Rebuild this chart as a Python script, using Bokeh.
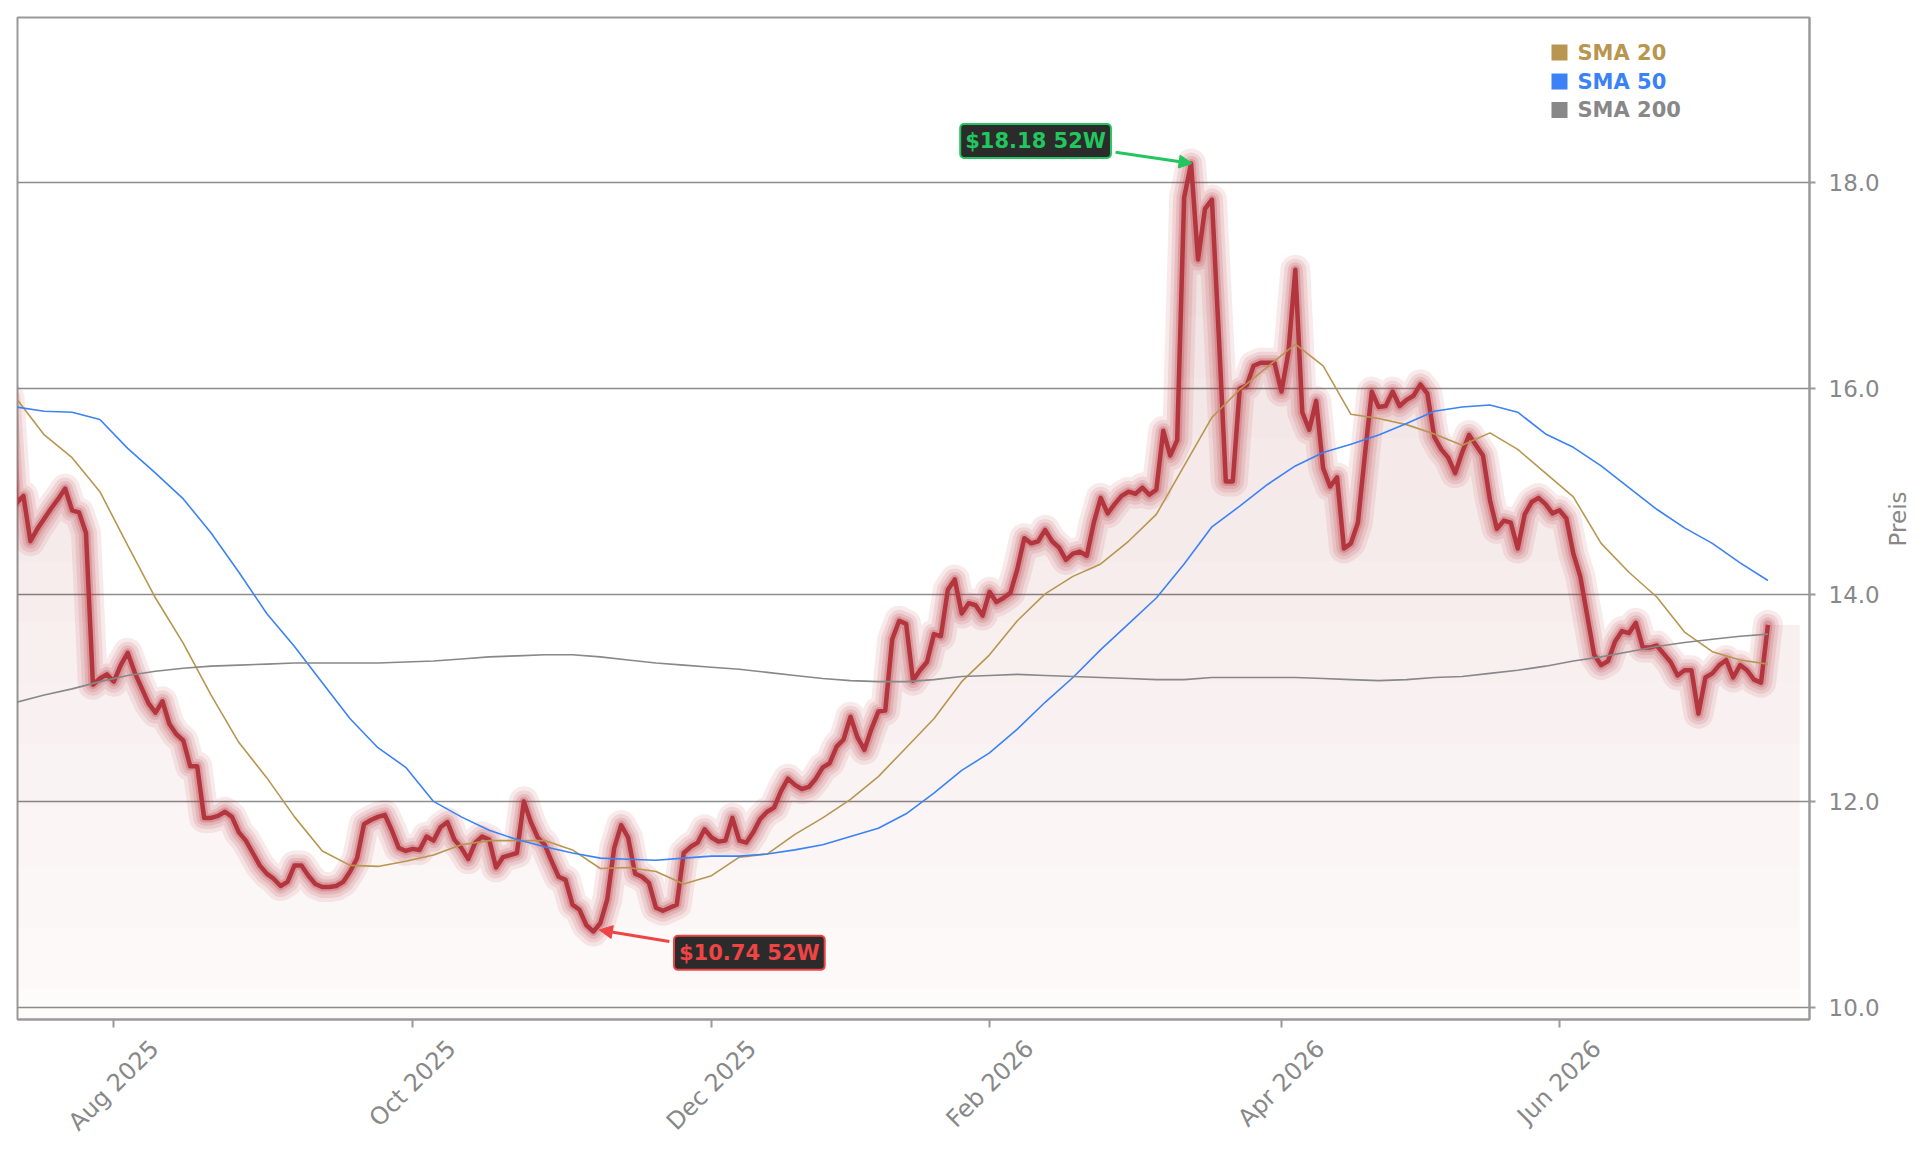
import math
import numpy as np
from bokeh.plotting import figure
from bokeh.models import (Range1d, FixedTicker, NumeralTickFormatter, Label, Arrow,
                          NormalHead, ColumnDataSource, LinearAxis)
from bokeh.core.properties import value
from bokeh.embed import file_html
from bokeh.resources import INLINE

# Daily closes by trading day (XETRA calendar), day 0 = 2025-07-11
close = [
    15.90, 14.89, 14.96, 14.52, 14.64, 14.74, 14.84, 14.93, 15.03, 14.82,
    14.80, 14.60, 13.13, 13.19, 13.23, 13.16, 13.32, 13.44, 13.25, 13.10,
    12.95, 12.86, 12.97, 12.75, 12.65, 12.59, 12.34, 12.34, 11.84, 11.84,
    11.86, 11.90, 11.85, 11.70, 11.62, 11.50, 11.38, 11.30, 11.25, 11.18,
    11.22, 11.38, 11.38, 11.28, 11.20, 11.17, 11.17, 11.18, 11.22, 11.32,
    11.45, 11.78, 11.82, 11.85, 11.87, 11.72, 11.55, 11.52, 11.54, 11.53,
    11.66, 11.62, 11.75, 11.80, 11.63, 11.55, 11.44, 11.60, 11.66, 11.63,
    11.36, 11.46, 11.48, 11.50, 12.00, 11.80, 11.65, 11.58, 11.42, 11.27,
    11.24, 11.00, 10.95, 10.80, 10.74, 10.82, 11.05, 11.55, 11.77, 11.65,
    11.30, 11.27, 11.21, 10.97, 10.94, 10.97, 11.00, 11.50, 11.56, 11.60,
    11.73, 11.65, 11.61, 11.62, 11.84, 11.62, 11.60, 11.70, 11.83, 11.90,
    11.94, 12.10, 12.22, 12.16, 12.12, 12.14, 12.22, 12.33, 12.37, 12.53,
    12.60, 12.82, 12.62, 12.50, 12.70, 12.87, 12.88, 13.57, 13.75, 13.72,
    13.17, 13.27, 13.35, 13.62, 13.60, 14.05, 14.15, 13.82, 13.92, 13.90,
    13.80, 14.03, 13.93, 13.97, 14.02, 14.25, 14.55, 14.50, 14.52, 14.63,
    14.52, 14.46, 14.34, 14.40, 14.42, 14.38, 14.70, 14.94, 14.79, 14.88,
    14.96, 15.00, 14.98, 15.04, 14.97, 15.02, 15.59, 15.35, 15.50, 17.85,
    18.18, 17.25, 17.74, 17.83, 16.50, 15.10, 15.10, 16.00, 16.03, 16.22,
    16.25, 16.25, 16.25, 15.97, 16.35, 17.15, 15.77, 15.60, 15.88, 15.23,
    15.05, 15.14, 14.45, 14.50, 14.70, 15.35, 15.97, 15.82, 15.83, 15.97,
    15.83, 15.89, 15.93, 16.04, 15.95, 15.53, 15.41, 15.33, 15.18, 15.38,
    15.55, 15.45, 15.35, 14.92, 14.64, 14.72, 14.70, 14.45, 14.78, 14.90,
    14.94, 14.88, 14.79, 14.82, 14.74, 14.40, 14.18, 13.80, 13.42, 13.32,
    13.36, 13.55, 13.65, 13.63, 13.73, 13.49, 13.49, 13.51, 13.43, 13.35,
    13.22, 13.27, 13.27, 12.85, 13.20, 13.24, 13.32, 13.37, 13.20, 13.32,
    13.27, 13.18, 13.15, 13.71,
]

# Moving averages, sampled every 4 trading days
sma_days = list(range(1, 254, 4))
sma20 = [
    15.90, 15.55, 15.33, 15.00, 14.48, 13.97, 13.53, 13.03,
    12.57, 12.23, 11.85, 11.52, 11.38, 11.37, 11.42, 11.48,
    11.58, 11.62, 11.62, 11.62, 11.53, 11.35, 11.36, 11.32,
    11.20, 11.28, 11.46, 11.49, 11.68, 11.84, 12.02, 12.24,
    12.52, 12.80, 13.16, 13.42, 13.75, 14.01, 14.18, 14.30,
    14.52, 14.78, 15.25, 15.72, 15.99, 16.21, 16.43, 16.22,
    15.75, 15.71, 15.65, 15.56, 15.45, 15.57, 15.41, 15.18,
    14.95, 14.50, 14.22, 13.98, 13.64, 13.45, 13.37, 13.33,
]
sma50 = [
    15.82, 15.78, 15.77, 15.70, 15.42, 15.18, 14.93, 14.60,
    14.22, 13.82, 13.50, 13.15, 12.80, 12.52, 12.33, 12.00,
    11.85, 11.72, 11.63, 11.56, 11.50, 11.45, 11.44, 11.43,
    11.45, 11.47, 11.47, 11.49, 11.53, 11.58, 11.66, 11.74,
    11.88, 12.08, 12.30, 12.47, 12.70, 12.96, 13.20, 13.47,
    13.72, 13.97, 14.30, 14.66, 14.86, 15.07, 15.25, 15.38,
    15.46, 15.55, 15.66, 15.78, 15.82, 15.84, 15.77, 15.56,
    15.43, 15.25, 15.04, 14.83, 14.65, 14.50, 14.31, 14.14,
]
sma200 = [
    12.96, 13.03, 13.09, 13.16, 13.22, 13.26, 13.29, 13.31,
    13.32, 13.33, 13.34, 13.34, 13.34, 13.34, 13.35, 13.36,
    13.38, 13.40, 13.41, 13.42, 13.42, 13.40, 13.37, 13.34,
    13.32, 13.30, 13.28, 13.25, 13.22, 13.19, 13.17, 13.16,
    13.16, 13.18, 13.21, 13.22, 13.23, 13.22, 13.21, 13.20,
    13.19, 13.18, 13.18, 13.20, 13.20, 13.20, 13.20, 13.19,
    13.18, 13.17, 13.18, 13.20, 13.21, 13.24, 13.27, 13.31,
    13.36, 13.40, 13.45, 13.50, 13.54, 13.57, 13.60, 13.62,
]

tick_days = [15, 58, 101, 141, 183, 223]
tick_labels = ["Aug 2025", "Oct 2025", "Dec 2025", "Feb 2026", "Apr 2026", "Jun 2026"]
price_ticks = [10, 12, 14, 16, 18]
legend_labels = ["SMA 20", "SMA 50", "SMA 200"]
y_title = "Preis"

# ---- styling ----
FONT = "DejaVu Sans"
RED = "#b8343c"
CORE = "#b3353d"
GOLD = "#b8964f"
BLUE = "#3b82f6"
GREY = "#888888"
AXIS = "#9a9a9a"
UP = "#22c55e"
DOWN = "#ef4444"
BOX = "#2b2b2b"
XLAB_PX = 24
YLAB_PX = 23
FILL_PAD_DAYS = 4.6   # area runs on a little past the last close

W, H = 1929, 1151
ML, MT, MR, MB = 17, 17, 120, 132
FW, FH = W - ML - MR, H - MT - MB
X0, X1 = 1.144, 258.98
Y0, Y1 = 9.887, 19.594
PPX = FW / (X1 - X0)
PPY = FH / (Y1 - Y0)

# DejaVu Sans advance widths (em) for the axis texts
EM = {"A": .684, "u": .634, "g": .635, " ": .318, "O": .787, "c": .550, "t": .392,
      "D": .770, "e": .615, "F": .575, "b": .635, "p": .635, "r": .411, "J": .295,
      "n": .634, "P": .603, "i": .278, "s": .521}
EM.update({d: .636 for d in "0123456789"})


def text_w(s, size):
    return size * sum(EM[c] for c in s)


def px_x(px):
    return X0 + (px - ML) / PPX


def px_y(py):
    return Y1 - (py - MT) / PPY


p = figure(width=W, height=H, x_range=Range1d(X0, X1), y_range=Range1d(Y0, Y1),
           output_backend="svg", toolbar_location=None, y_axis_location="right",
           min_border_left=ML, min_border_top=MT, min_border_right=MR,
           min_border_bottom=MB, background_fill_color="white",
           border_fill_color="white")
p.outline_line_color = AXIS
p.outline_line_width = 2

days = np.arange(len(close))
px = np.array(close)

# soft area under the price, darker towards the top
fx = np.append(days, days[-1] + FILL_PAD_DAYS)
fy = np.append(px, px[-1])
p.varea(x=fx, y1=Y0, y2=fy, fill_color=RED, fill_alpha=0.02)
n_layers = 14
step = (px.max() - Y0) / n_layers
for k in range(n_layers):
    lvl = Y0 + (k + 0.5) * step
    p.varea(x=fx, y1=lvl, y2=np.maximum(fy, lvl), fill_color=RED, fill_alpha=0.0095)

# glowing price line
for w, a in [(30, 0.10), (22, 0.12), (15, 0.15), (9, 0.25)]:
    p.line(days, px, line_color=RED, line_alpha=a, line_width=w,
           line_join="round", line_cap="round")
p.line(days, px, line_color=CORE, line_width=4.5, line_join="round")

# moving averages
p.line(sma_days, sma20, line_color=GOLD, line_width=1.6)
p.line(sma_days, sma50, line_color=BLUE, line_width=1.6)
p.line(sma_days, sma200, line_color=GREY, line_width=1.6)

# price axis on the right
p.yaxis.ticker = FixedTicker(ticks=price_ticks)
p.yaxis.formatter = NumeralTickFormatter(format="0.0")
p.yaxis.major_label_text_font = FONT
p.yaxis.major_label_text_font_size = f"{YLAB_PX}px"
p.yaxis.major_label_text_color = GREY
p.yaxis.major_label_standoff = 13

# date axis: tick marks here, labels on a second axis below
p.xaxis.ticker = FixedTicker(ticks=tick_days)
p.xaxis.major_label_overrides = {d: "" for d in tick_days}
p.xaxis.major_label_text_font_size = "0px"
p.xaxis.major_label_standoff = 0

for ax in (p.xaxis, p.yaxis):
    ax.axis_line_color = AXIS
    ax.axis_line_width = 2
    ax.major_tick_line_color = AXIS
    ax.major_tick_line_width = 2
    ax.major_tick_in = 0
    ax.minor_tick_line_color = None
p.yaxis.major_tick_out = 6
p.xaxis.major_tick_out = 8


def text_axis(ticks, labels, orientation, standoff, size):
    return LinearAxis(ticker=FixedTicker(ticks=ticks),
                      major_label_overrides=dict(zip(ticks, labels)),
                      major_label_orientation=orientation, axis_line_color=None,
                      major_tick_line_color=None, minor_tick_line_color=None,
                      major_tick_out=0, major_tick_in=0,
                      major_label_standoff=standoff, major_label_text_font=FONT,
                      major_label_text_font_size=f"{size}px",
                      major_label_text_color=GREY)


# rotated month labels, shifted so each label is centred on its tick
lab_ticks = [round(d + 0.5 * text_w(lab, XLAB_PX) * math.cos(math.pi / 4) / PPX, 3)
             for d, lab in zip(tick_days, tick_labels)]
p.add_layout(text_axis(lab_ticks, tick_labels, math.pi / 4, 17, XLAB_PX), "below")

# axis title, reading upwards and centred on the frame
title_at = round(px_y(MT + FH / 2 + 0.5 * text_w(y_title, YLAB_PX)), 4)
p.add_layout(text_axis([title_at], [y_title], math.pi / 2, 16, YLAB_PX), "right")

p.xgrid.grid_line_color = None
p.ygrid.ticker = FixedTicker(ticks=price_ticks)
p.ygrid.grid_line_color = "#8c8c8c"
p.ygrid.grid_line_width = 1.3

# legend
leg = ColumnDataSource(dict(
    x=[px_x(1559)] * 3, tx=[px_x(1577)] * 3,
    y=[px_y(52), px_y(81), px_y(109.5)],
    label=legend_labels, color=[GOLD, BLUE, GREY]))
p.scatter("x", "y", source=leg, marker="square", size=16, fill_color="color",
          line_color=None)
p.text("tx", "y", text="label", source=leg, text_color="color",
       text_font=value(FONT), text_font_style="bold", text_font_size="21px",
       text_baseline="middle")

# 52-week high / low callouts
hi = int(np.argmax(px))
lo = int(np.argmin(px))


def callout(i, color, box_dx, box_dy, start, tip):
    v = float(px[i])
    p.add_layout(Label(x=i, y=v, x_offset=box_dx, y_offset=box_dy,
                       text=f"${v:.2f} 52W", text_align="center",
                       text_baseline="middle", text_font=FONT,
                       text_font_style="bold", text_font_size="21px",
                       text_color=color, background_fill_color=BOX,
                       border_line_color=color, border_line_width=2,
                       padding=5, border_radius=4))
    p.add_layout(Arrow(end=NormalHead(size=13, fill_color=color, line_color=color),
                       x_start=i + start[0] / PPX, y_start=v + start[1] / PPY,
                       x_end=i + tip[0] / PPX, y_end=v + tip[1] / PPY,
                       line_color=color, line_width=3))


callout(hi, UP, -155.5, 22.5, (-75.5, 11.3), (1.0, 0.0))
callout(lo, DOWN, 156.0, -21.4, (76.0, -10.0), (6.0, 1.5))

open("out.html", "w").write(file_html(p, INLINE))
